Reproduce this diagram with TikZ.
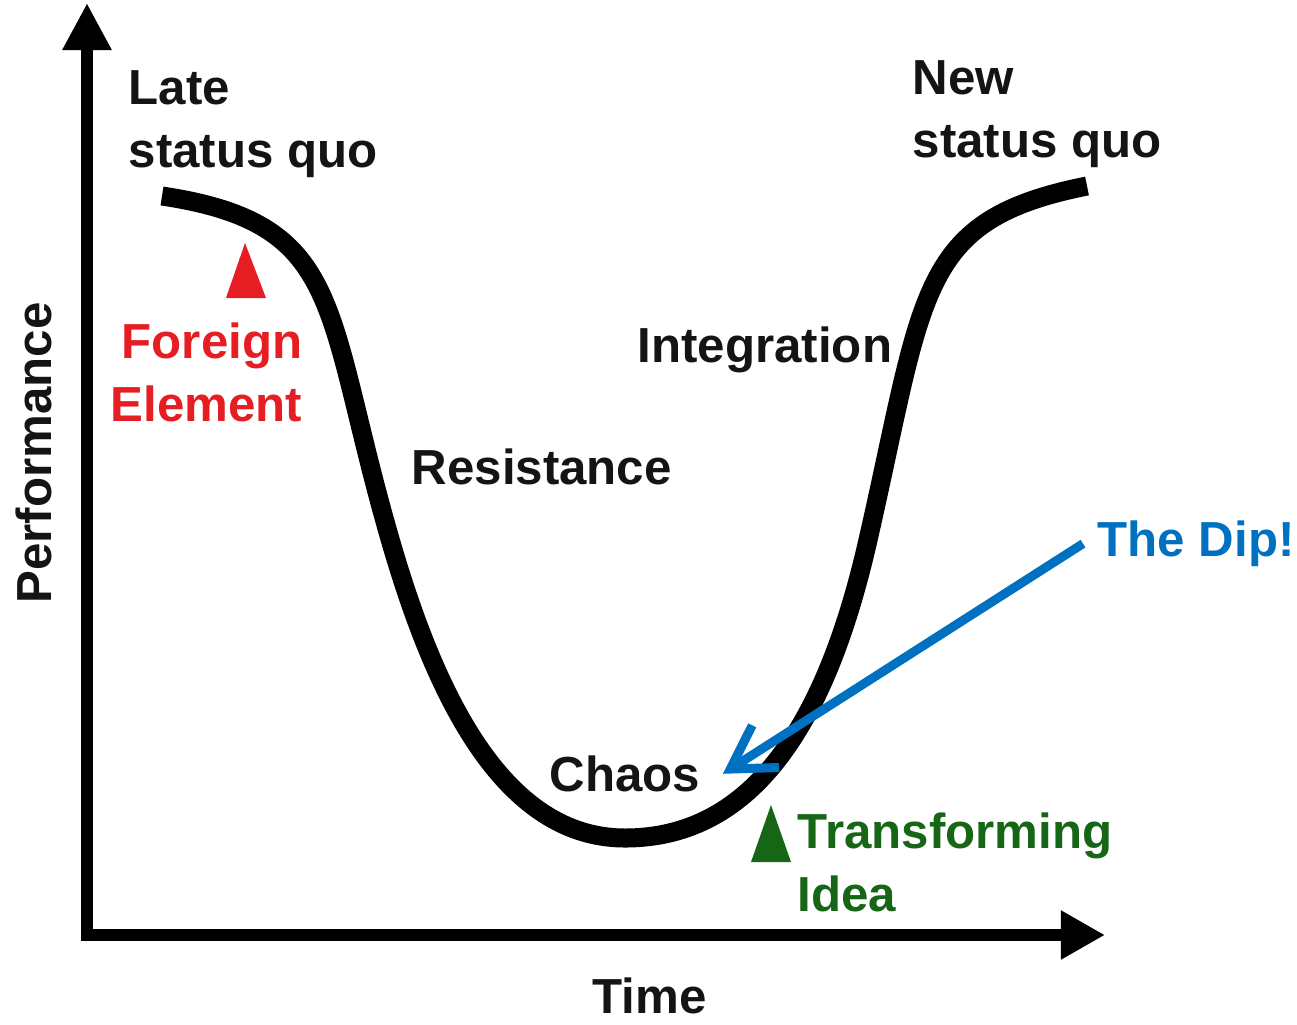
\documentclass[tikz,border=0pt]{standalone}
\usepackage{fontspec}
\setmainfont{Liberation Sans}
\usetikzlibrary{arrows.meta}
\definecolor{dipblue}{RGB}{0,112,192}
\definecolor{foreignred}{RGB}{230,30,36}
\definecolor{ideagreen}{RGB}{22,102,22}

\begin{document}
\begin{tikzpicture}[x=0.01cm, y=-0.01cm,
  lbl/.style={font=\bfseries\fontsize{14}{18}\selectfont, inner sep=0pt, text=black!92}]
\useasboundingbox (0,0) rectangle (1297,1024);
\coordinate (ytop) at (87,3);
\coordinate (xend) at (1105,935);
\draw[line width=0.12cm, line join=miter, {Triangle[length=0.47cm,width=0.46cm]}-{Triangle[length=0.44cm,width=0.46cm]}] (ytop) |- (xend);
\draw[line width=0.19cm] (162,196) .. controls (342,223) and (324,305) .. (386,525)
 .. controls (428,675) and (495,838) .. (625,838)
 .. controls (755,838) and (827,720) .. (868,540)
 .. controls (925,290) and (917,220) .. (1087,186);
\fill[foreignred] (245,243) -- (266,298) -- (226,298) -- cycle;
\fill[ideagreen] (771,805) -- (791,862) -- (751,862) -- cycle;
\node[lbl, rotate=90, anchor=north] (perf) at (15,453) {Performance};
\node[lbl, anchor=north west] (time) at (592,977) {Time};
\node[lbl, anchor=north west, align=left] (late) at (128,70) {Late\\status quo};
\node[lbl, anchor=north west, align=left] (new) at (912,60) {New\\status quo};
\node[lbl, anchor=north east, align=right, text=foreignred] (foreign) at (303,322) {Foreign\\Element};
\node[lbl, anchor=north west] (integ) at (637,326) {Integration};
\node[lbl, anchor=north west] (resist) at (411,448) {Resistance};
\node[lbl, anchor=north west] (chaos) at (549,755) {Chaos};
\node[lbl, anchor=north west, align=left, text=ideagreen] (idea) at (797,812) {Transforming\\Idea};
\node[lbl, anchor=north west, text=dipblue] (dip) at (1097,520) {The Dip!};
\draw[dipblue, line width=0.09cm, -{Straight Barb[length=0.42cm,width=0.5cm]}] ([xshift=-0.14cm]dip.west) -- ([xshift=0.22cm]chaos.east);
\end{tikzpicture}
\end{document}
